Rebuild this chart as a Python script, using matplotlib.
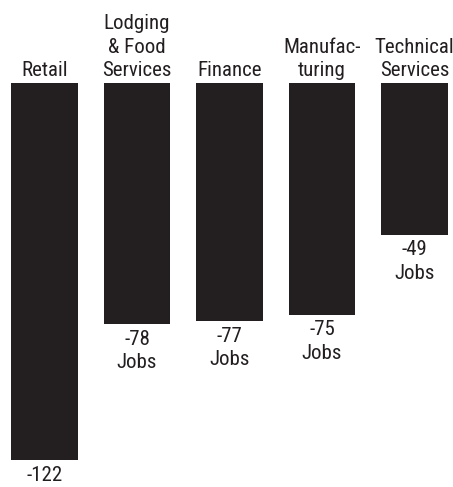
import matplotlib
matplotlib.use("Agg")
import matplotlib.pyplot as plt
from matplotlib import font_manager

categories = ["Retail", "Lodging\n& Food\nServices", "Finance", "Manufac-\nturing", "Technical\nServices"]
values = [-122, -78, -77, -75, -49]
value_labels = ["-122", "-78\nJobs", "-77\nJobs", "-75\nJobs", "-49\nJobs"]

names = {f.name for f in font_manager.fontManager.ttflist}
fam = "DejaVu Sans"
for cand in ["Roboto Condensed", "Archivo Narrow", "PT Sans Narrow", "Liberation Sans Narrow"]:
    if cand in names:
        fam = cand
        break

fig = plt.figure(figsize=(4.53, 4.87), dpi=100)
ax = fig.add_axes([0, 0, 1, 1])
ax.set_xlim(-0.481, 4.416)
ax.set_ylim(-130.7, 26.9)
ax.axis("off")

col = "#231f20"
x = list(range(len(values)))
ax.bar(x, values, width=0.724, color=col)
for xi, v, cat, lab in zip(x, values, categories, value_labels):
    ax.text(xi, 1.0, cat, ha="center", va="bottom", fontsize=15, family=fam,
            color=col, linespacing=1.3)
    ax.text(xi, v - 1.8, lab, ha="center", va="top", fontsize=15, family=fam,
            color=col, linespacing=1.3)

fig.savefig("out.png", dpi=100)
